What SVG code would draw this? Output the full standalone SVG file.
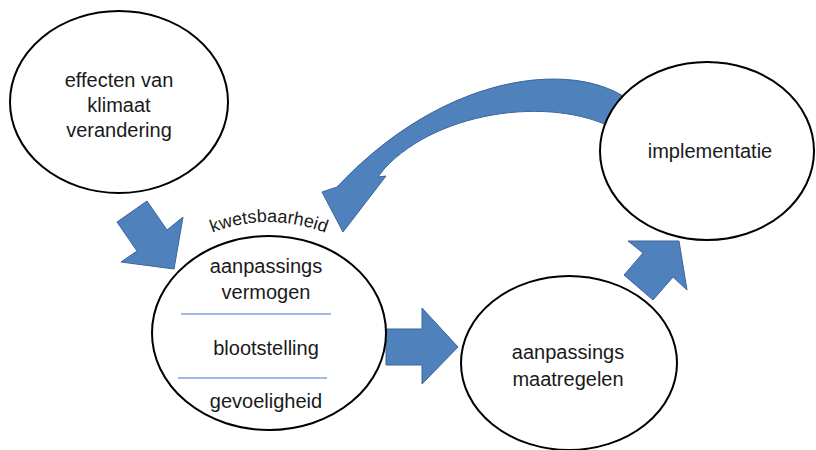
<svg xmlns="http://www.w3.org/2000/svg" width="816" height="450" viewBox="0 0 816 450">
<style>
.node{fill:#ffffff;stroke:#000000;stroke-width:2}
.arrow{fill:#4f81bd;stroke:#3a659a;stroke-width:1;stroke-linejoin:miter}
.t{font-family:"Liberation Sans",Arial,sans-serif;font-size:20px;fill:#1a1a1a;text-anchor:middle}
.sep{stroke:#7fa5d6;stroke-width:1.5}
</style>
<defs>
<path id="kpath" d="M 200 238 Q 268 206 338 238"/>
</defs>
<rect width="816" height="450" fill="#ffffff"/>
<g id="connectors">
<polygon class="arrow" points="117,222 147,201 167,230 183,217 174,269 121,262 137,251"/>
<polygon class="arrow" points="386,329 422,329 422,308 458,347 422,384 422,365 386,365"/>
<polygon class="arrow" points="628,241 679,241 687,290 673,277 653,300 624,275 643,253"/>
<path class="arrow" d="M 648 120 C 610 58, 460 56, 337 187 L 322 192 L 343 232 L 386 176 L 378 177 L 384 169 C 440 108, 560 95, 620 132 Z"/>
</g>
<g id="node-effecten">
<ellipse class="node" cx="119" cy="102" rx="109" ry="91"/>
<text class="t" x="119" y="87">effecten van</text>
<text class="t" x="119" y="112">klimaat</text>
<text class="t" x="119" y="137">verandering</text>
</g>
<g id="node-kwetsbaarheid">
<ellipse class="node" cx="269" cy="333" rx="117" ry="97"/>
<text font-family="&quot;Liberation Sans&quot;, Arial, sans-serif" font-size="18" fill="#1a1a1a" text-anchor="middle"><textPath href="#kpath" startOffset="50%">kwetsbaarheid</textPath></text>
<text class="t" x="266" y="273">aanpassings</text>
<text class="t" x="266" y="299">vermogen</text>
<line class="sep" x1="181" y1="314" x2="331" y2="314"/>
<text class="t" x="266" y="355">blootstelling</text>
<line class="sep" x1="178" y1="378" x2="327" y2="378"/>
<text class="t" x="266" y="408">gevoeligheid</text>
</g>
<g id="node-maatregelen">
<ellipse class="node" cx="569" cy="363" rx="108" ry="87"/>
<text class="t" x="568" y="359">aanpassings</text>
<text class="t" x="568" y="386">maatregelen</text>
</g>
<g id="node-implementatie">
<ellipse class="node" cx="707" cy="151" rx="107" ry="89"/>
<text class="t" x="710" y="158">implementatie</text>
</g>
</svg>
